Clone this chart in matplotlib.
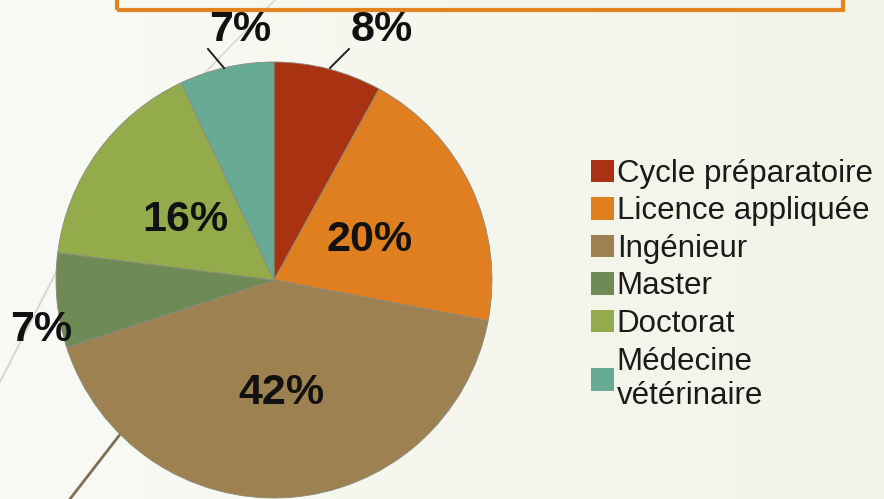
import numpy as np
import matplotlib
matplotlib.use("Agg")
import matplotlib.pyplot as plt
from matplotlib.patches import Rectangle
from matplotlib.colors import LinearSegmentedColormap

# donnees
categories = ["Cycle préparatoire", "Licence appliquée", "Ingénieur",
              "Master", "Doctorat", "Médecine\nvétérinaire"]
valeurs = [8, 20, 42, 7, 16, 7]
couleurs = ["#A83212", "#E07F1F", "#9E8150", "#6F8B55", "#93AB4A", "#67AB94"]

W, H = 884, 499
fig = plt.figure(figsize=(W / 100, H / 100), dpi=100)
ax = fig.add_axes([0, 0, 1, 1])
ax.set_xlim(0, W)
ax.set_ylim(0, H)
ax.set_aspect("equal")
ax.axis("off")

# fond degrade
grad = np.linspace(0, 1, 256).reshape(1, -1)
cmap = LinearSegmentedColormap.from_list("bg", ["#F9FAF5", "#F1F4E7"])
ax.imshow(grad, extent=[0, W, 0, H], cmap=cmap, aspect="auto", zorder=0)

# lignes decoratives
ax.plot([275, 200], [H - 0, H - 78], color="#D8D8D0", lw=1.2, zorder=1)
ax.plot([70, 0], [H - 245, H - 382], color="#D8D8D0", lw=1.5, zorder=1)
ax.plot([125, 70], [H - 428, H - 499], color="#7D6F55", lw=2, zorder=1)

# cadre orange
ax.add_patch(Rectangle((117, H - 10), 726, 30, fill=False, edgecolor="#E48420",
                       lw=3, zorder=1, clip_on=False))

# camembert
cx, cy, r = 274, H - 280, 218
wedges, _ = ax.pie(valeurs, colors=couleurs, startangle=90, counterclock=False,
                   center=(cx, cy), radius=r, frame=True,
                   wedgeprops=dict(edgecolor="#8A8A80", linewidth=0.6))
for w in wedges:
    w.set_zorder(2)
ax.set_xlim(0, W)
ax.set_ylim(0, H)
ax.axis("off")

# etiquettes (distance relative au rayon, angle)
lab_pos = [(1.26, 67), (0.48, 24), (0.505, -86), (1.09, 191.5), (0.5, 144.7), (1.17, 97.7)]
fp = dict(family=["Liberation Sans", "DejaVu Sans"], weight="bold", fontsize=31, color="#111111")
for v, (d, a) in zip(valeurs, lab_pos):
    x = cx + d * r * np.cos(np.radians(a))
    y = cy + d * r * np.sin(np.radians(a)) - 3
    ax.text(x, y, f"{v}%", ha="center", va="center", zorder=4, **fp)

# traits de rappel
ax.plot([330, 349], [H - 68, H - 49], color="#222222", lw=1.4, zorder=3)
ax.plot([224, 208], [H - 68, H - 49], color="#222222", lw=1.4, zorder=3)

# legende
handles = [Rectangle((0, 0), 1, 1, facecolor=c, edgecolor="none") for c in couleurs]
leg = ax.legend(handles, categories, loc="upper left", bbox_to_anchor=(591 / W, 1 - 159 / H),
                frameon=False, prop=dict(family=["Liberation Sans", "DejaVu Sans"], size=22.5),
                handlelength=0.72, handleheight=0.72, handletextpad=0.1,
                labelspacing=0.24, borderpad=0, borderaxespad=0)
for t in leg.get_texts():
    t.set_color("#1A1A1A")

fig.savefig("out.png", dpi=100)
